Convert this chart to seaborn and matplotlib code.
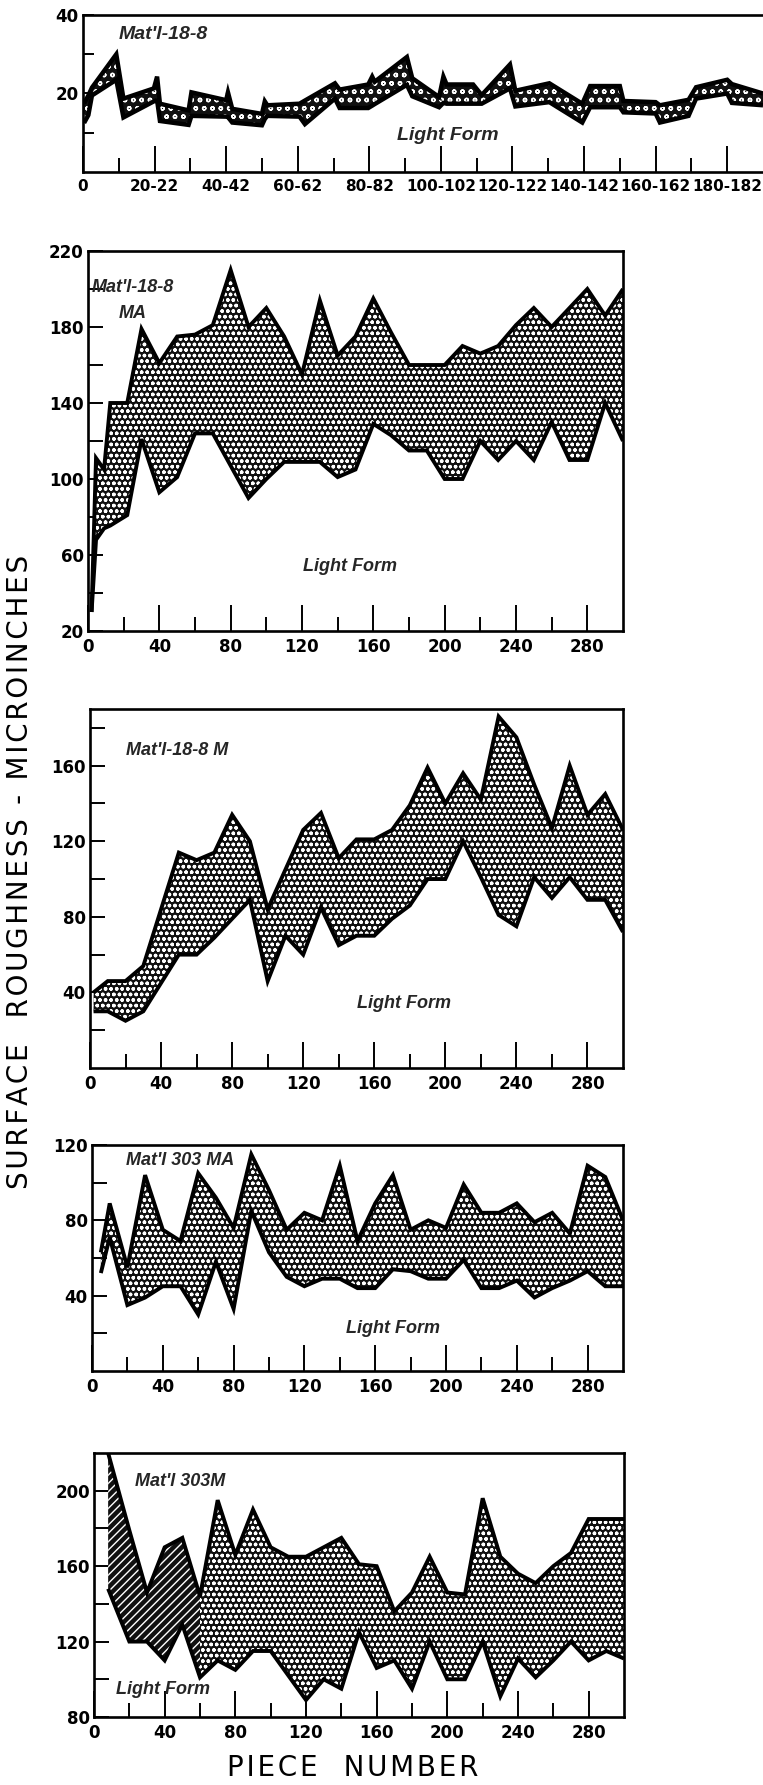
import numpy as np
import pandas as pd
import matplotlib
matplotlib.use("Agg")
import matplotlib.pyplot as plt
import seaborn as sns

# ---- Mat'l 18-8 : pieces sampled in pairs (0, 20-22, 40-42 ...) ----
p1_piece = [0.3, 1.5, 2.5, 9.3, 11.3, 19.8, 20.7, 21.5, 29.5, 30.3, 40.0, 40.5,
            41.7, 50.0, 50.8, 51.5, 60.5, 62.0, 70.4, 71.7, 79.7, 80.8, 81.5,
            90.5, 92.0, 99.5, 100.7, 101.6, 109.0, 111.4, 119.3, 120.8, 130.3,
            139.5, 141.7, 150.0, 151.0, 160.0, 161.2, 169.2, 171.3, 180.0,
            181.3, 190.0]
p1_high = [17.5, 19.5, 21.5, 30.0, 18.7, 21.3, 24.3, 17.4, 15.7, 20.3, 18.3, 20.3,
           16.1, 14.8, 18.0, 17.0, 17.4, 18.2, 22.6, 21.0, 22.3, 24.3, 23.0,
           29.3, 23.9, 19.1, 24.3, 22.3, 22.3, 19.6, 27.4, 20.7, 22.6,
           17.4, 21.9, 21.9, 18.1, 17.8, 17.0, 18.4, 21.6, 23.5,
           22.4, 20.0]
p1_low = [12.5, 14.5, 19.5, 23.5, 13.9, 18.0, 18.3, 13.0, 12.0, 14.3, 14.1, 14.0,
          12.6, 11.9, 13.5, 14.3, 14.1, 12.2, 18.7, 16.3, 16.3, 16.9, 17.3,
          22.2, 19.3, 16.5, 17.6, 17.4, 17.4, 17.4, 21.3, 16.7, 17.8,
          12.6, 16.5, 16.5, 15.2, 14.9, 12.6, 14.3, 18.7, 20.0,
          17.6, 17.0]
p1_xticks = [0, 20, 40, 60, 80, 100, 120, 140, 160, 180]
p1_xlabels = ["0", "20-22", "40-42", "60-62", "80-82", "100-102", "120-122",
              "140-142", "160-162", "180-182"]

# ---- Mat'l 18-8 MA ----
p2_piece = [2, 4.5, 9, 12.5, 22, 30, 40, 50, 60, 70, 80, 90, 100, 110, 120, 130,
            140, 150, 160, 170, 180, 190, 200, 210, 220, 230, 240, 250, 260, 270,
            280, 290, 300]
p2_high = [30, 111, 105, 140, 140, 179, 161, 175, 176, 181, 210, 180, 190, 175, 155,
           194, 165, 175, 195, 177, 160, 160, 160, 170, 166, 170, 181, 190, 180,
           190, 200, 186, 200]
p2_low = [30, 68, 74, 75.5, 81, 121, 93, 101, 124, 124, 107, 90, 100, 109, 109, 109,
          101, 105, 129, 123, 115, 115, 100, 100, 120, 110, 120, 110, 130, 110,
          110, 140, 120]

# ---- Mat'l 18-8 M ----
p3_piece = [2, 10, 20, 30, 50, 60, 70, 80, 90, 100, 110, 120, 130, 140, 150, 160,
            170, 180, 190, 200, 210, 220, 230, 240, 250, 260, 270, 280, 290, 300]
p3_high = [40, 46, 46, 54, 114, 110, 114, 134, 120, 84, 105, 126, 135, 111, 121, 121,
           126, 139, 159, 140, 156, 142, 186, 175, 150, 127, 160, 134, 145, 126]
p3_low = [30, 30, 25, 30, 60, 60, 69, 79, 89, 46, 70, 60, 85, 65, 70, 70,
          79, 86, 100, 100, 120, 101, 81, 75, 101, 90, 101, 89, 89, 72]

# ---- Mat'l 303 MA ----
p4_piece = [5, 10, 20, 30, 40, 50, 60, 70, 80, 90, 100, 110, 120, 130, 140, 150,
            160, 170, 180, 190, 200, 210, 220, 230, 240, 250, 260, 270, 280, 290, 300]
p4_high = [63, 89, 55, 104, 75, 69, 105, 92, 76, 115, 96, 75, 84, 80, 109, 69,
           89, 104, 75, 80, 76, 99, 84, 84, 89, 79, 84, 73, 109, 103, 80]
p4_low = [52, 71, 35, 39, 45, 45, 30, 58, 33, 85, 63, 50, 45, 49, 49, 44,
          44, 54, 53, 49, 49, 59, 44, 44, 48, 39, 44, 48, 53, 45, 45]

# ---- Mat'l 303M ----
p5_piece = [8, 20, 30, 40, 50, 60, 70, 80, 90, 100, 110, 120, 130, 140, 150, 160,
            170, 180, 190, 200, 210, 220, 230, 240, 250, 260, 270, 280, 290, 300]
p5_high = [220, 179, 146, 170, 175, 144, 195, 166, 190, 170, 165, 165, 170, 175, 161,
           160, 136, 146, 165, 146, 145, 196, 165, 156, 151, 160, 167, 185, 185, 185]
p5_low = [148, 120, 120, 110, 129, 101, 110, 105, 115, 115, 102, 89, 100, 95, 125,
          106, 110, 95, 120, 100, 100, 120, 91, 111, 101, 110, 120, 110, 115, 111]

W, H = 763, 1785
sns.set_theme(style="white")
plt.rcParams["font.family"] = ["DejaVu Sans"]
plt.rcParams["hatch.linewidth"] = 1.0

fig = plt.figure(figsize=(W / 100, H / 100), dpi=100)


def box(left, top, right, bottom):
    return [left / W, 1 - bottom / H, (right - left) / W, (bottom - top) / H]


def band(ax, piece, high, low, hatch, face="#111111", hatch_col="white", where=None):
    x = np.asarray(piece, float)
    ax.fill_between(x, low, high, where=where, facecolor=face, edgecolor=hatch_col,
                    hatch=hatch, linewidth=0, zorder=2)


def outline(ax, piece, high, low, lw=2.8):
    df = pd.DataFrame({"piece": piece, "high": high, "low": low})
    for col in ("high", "low"):
        sns.lineplot(data=df, x="piece", y=col, ax=ax, color="black", lw=lw,
                     estimator=None, sort=False, solid_joinstyle="miter",
                     solid_capstyle="butt", zorder=3)


def style(ax, xlim, ylim, yticks, yminor, xticks, xminor, xlabels=None, xfs=12):
    ax.set_xlim(*xlim)
    ax.set_ylim(*ylim)
    ax.set_xlabel("")
    ax.set_ylabel("")
    ax.set_yticks(yticks)
    ax.set_yticks(yminor, minor=True)
    ax.set_xticks(xticks)
    ax.set_xticks(xminor, minor=True)
    if xlabels is not None:
        ax.set_xticklabels(xlabels)
    for s in ax.spines.values():
        s.set_color("black")
        s.set_linewidth(1.9)
    ax.tick_params(axis="both", which="both", direction="in", colors="black",
                   width=1.4, bottom=True, left=True, top=False, right=False)
    ax.tick_params(axis="x", which="major", length=19, pad=5)
    ax.tick_params(axis="x", which="minor", length=10)
    ax.tick_params(axis="y", which="both", length=11, pad=3)
    for t in ax.get_xticklabels():
        t.set_fontweight("bold")
        t.set_fontsize(xfs)
    for t in ax.get_yticklabels():
        t.set_fontweight("bold")
        t.set_fontsize(12)
    ax.grid(False)
    ax.set_facecolor("white")


def note(ax, x, y, s, ha="left", fs=13):
    ax.text(x, y, s, ha=ha, va="center", fontsize=fs, fontweight="bold",
            fontstyle="italic", family=["Liberation Sans", "DejaVu Sans"], zorder=5)


def spaced(s):
    return "\u200a".join(s)


x40 = list(range(0, 281, 40))
x20 = list(range(20, 281, 40))

# panel 1
ax1 = fig.add_axes(box(83, 15, 763, 172))
band(ax1, p1_piece, p1_high, p1_low, "oo")
outline(ax1, p1_piece, p1_high, p1_low, lw=3.2)
style(ax1, (0, 190), (0, 40), [20, 40], [10, 30], p1_xticks,
      list(range(10, 180, 20)), p1_xlabels, xfs=11)
ax1.spines["right"].set_visible(False)
ax1.tick_params(axis="y", which="both", length=8)
note(ax1, 10, 35, "Mat'l-18-8", fs=14)
note(ax1, 102, 9.2, "Light Form", ha="center", fs=14)

# panel 2
ax2 = fig.add_axes(box(88, 251, 623, 631))
band(ax2, p2_piece, p2_high, p2_low, "ooo")
outline(ax2, p2_piece, p2_high, p2_low)
style(ax2, (0, 300), (20, 220), [20, 60, 100, 140, 180, 220], [40, 80, 120, 160, 200],
      x40, x20)
note(ax2, 2, 201, "Mat'l-18-8")
note(ax2, 25, 187, "MA", ha="center")
note(ax2, 147, 54, "Light Form", ha="center")

# panel 3
ax3 = fig.add_axes(box(90, 709, 623, 1068))
band(ax3, p3_piece, p3_high, p3_low, "ooo")
outline(ax3, p3_piece, p3_high, p3_low)
style(ax3, (0, 300), (0, 190), [40, 80, 120, 160], [20, 60, 100, 140, 180], x40, x20)
note(ax3, 20, 168, "Mat'l-18-8 M")
note(ax3, 177, 34.4, "Light Form", ha="center")

# panel 4
ax4 = fig.add_axes(box(92, 1145, 623, 1371))
band(ax4, p4_piece, p4_high, p4_low, "ooo")
outline(ax4, p4_piece, p4_high, p4_low)
style(ax4, (0, 300), (0, 120), [40, 80, 120], [20, 60, 100], x40, x20)
note(ax4, 19, 112, "Mat'l 303 MA")
note(ax4, 170, 22.8, "Light Form", ha="center")

# panel 5: early pieces hatched diagonally, the rest stippled
ax5 = fig.add_axes(box(94, 1453, 624, 1717))
p5x = np.asarray(p5_piece, float)
band(ax5, p5_piece, p5_high, p5_low, "////", where=p5x <= 60)
band(ax5, p5_piece, p5_high, p5_low, "ooo", where=p5x >= 60)
outline(ax5, p5_piece, p5_high, p5_low)
style(ax5, (0, 300), (80, 220), [80, 120, 160, 200], [100, 140, 180], x40, x20)
note(ax5, 23, 205, "Mat'l 303M")
note(ax5, 39, 94.8, "Light Form", ha="center")

fig.text(20 / W, 1 - 872 / H, spaced("SURFACE  ROUGHNESS - MICROINCHES"), rotation=90,
         ha="center", va="center", fontsize=20, color="black")
fig.text(353 / W, 1 - 1768 / H, spaced("PIECE  NUMBER"), ha="center", va="center",
         fontsize=20, color="black")

fig.savefig("out.png", dpi=100, facecolor="white")
